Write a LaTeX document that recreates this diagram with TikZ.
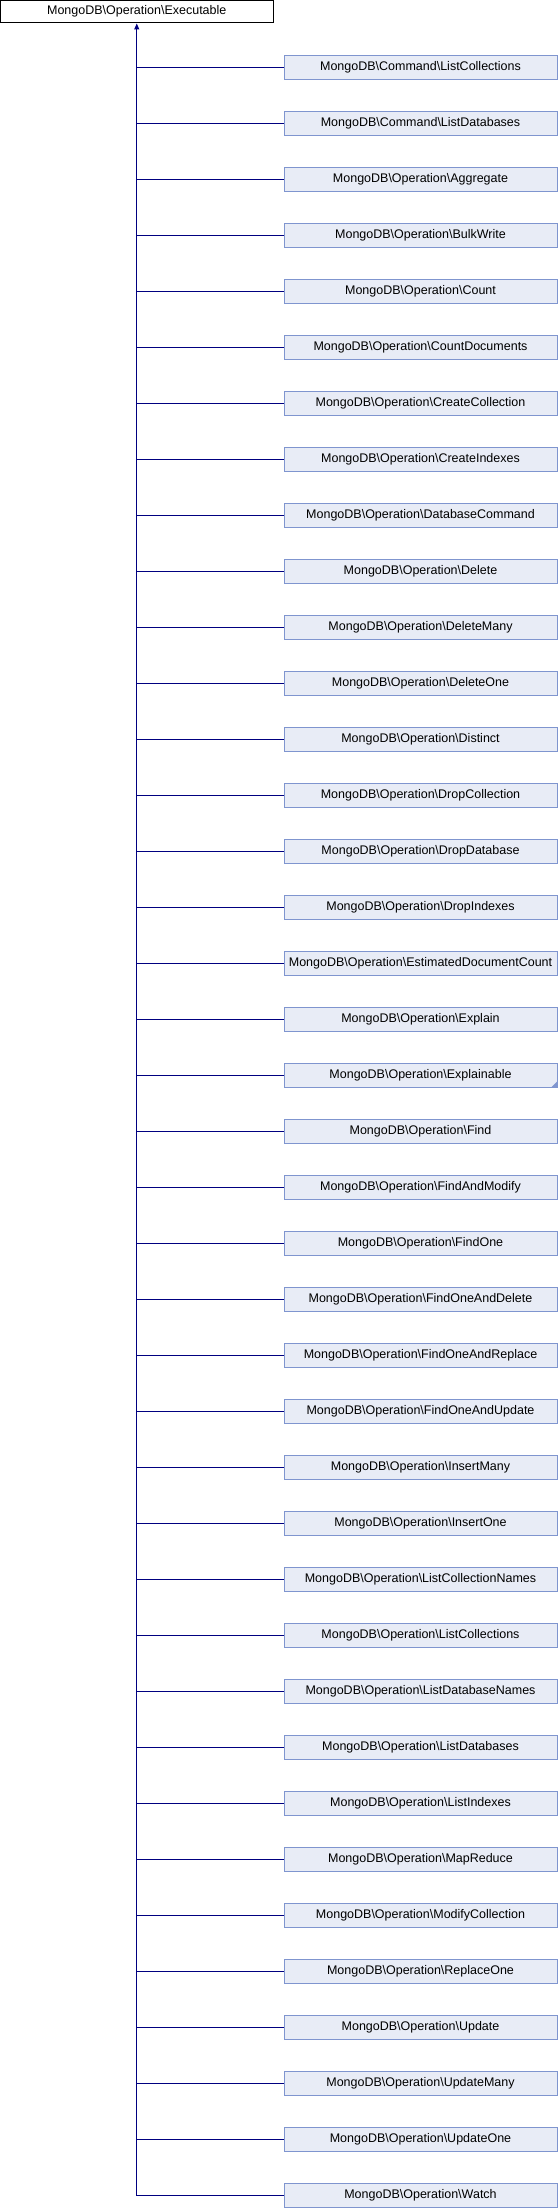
\documentclass[tikz,border=0pt]{standalone}
\usepackage{fontspec}
\setmainfont{Liberation Sans}
\usetikzlibrary{arrows.meta}
\definecolor{boxfill}{HTML}{E8ECF6}
\definecolor{boxdraw}{HTML}{7F95CF}
\definecolor{linecol}{HTML}{000080}
\newcommand\bs{\textbackslash}
\tikzset{
  basebox/.style={draw=black, fill=white, line width=1pt, minimum width=272.5pt, minimum height=22.5pt, inner sep=0pt, font=\fontsize{12.5}{14}\selectfont},
  childbox/.style={draw=boxdraw, fill=boxfill, line width=1pt, minimum width=273pt, minimum height=24pt, inner sep=0pt, font=\fontsize{12.5}{14}\selectfont},
  conn/.style={draw=linecol, line width=1pt},
}
\begin{document}
\begin{tikzpicture}[x=1pt,y=-1pt]
\useasboundingbox (0,0) rectangle (558,2208);
\node[basebox] (top) at (136.75,11.75) {MongoDB\bs Operation\bs Executable};
\foreach \txt [count=\i from 0] in {
  Command\bs ListCollections, Command\bs ListDatabases,
  Operation\bs Aggregate, Operation\bs BulkWrite, Operation\bs Count,
  Operation\bs CountDocuments, Operation\bs CreateCollection, Operation\bs CreateIndexes,
  Operation\bs DatabaseCommand, Operation\bs Delete, Operation\bs DeleteMany,
  Operation\bs DeleteOne, Operation\bs Distinct, Operation\bs DropCollection,
  Operation\bs DropDatabase, Operation\bs DropIndexes, Operation\bs EstimatedDocumentCount,
  Operation\bs Explain, Operation\bs Explainable, Operation\bs Find,
  Operation\bs FindAndModify, Operation\bs FindOne, Operation\bs FindOneAndDelete,
  Operation\bs FindOneAndReplace, Operation\bs FindOneAndUpdate, Operation\bs InsertMany,
  Operation\bs InsertOne, Operation\bs ListCollectionNames, Operation\bs ListCollections,
  Operation\bs ListDatabaseNames, Operation\bs ListDatabases, Operation\bs ListIndexes,
  Operation\bs MapReduce, Operation\bs ModifyCollection, Operation\bs ReplaceOne,
  Operation\bs Update, Operation\bs UpdateMany, Operation\bs UpdateOne,
  Operation\bs Watch} {
  \pgfmathsetmacro{\yy}{67.5+56*\i}
  \node[childbox] (c\i) at (420.5,\yy) {MongoDB\bs\txt};
  \draw[conn] (c\i.west) -- (c\i.west -| top.south);
}
\fill[boxdraw] ([xshift=-0.5pt,yshift=0.5pt]c18.south east) -- ++(-6,0) -- ++(6,-6) -- cycle;
\draw[conn,-{Triangle[length=6pt,width=5pt]}] (c38.west -| top.south) -- (top.south);
\end{tikzpicture}
\end{document}
